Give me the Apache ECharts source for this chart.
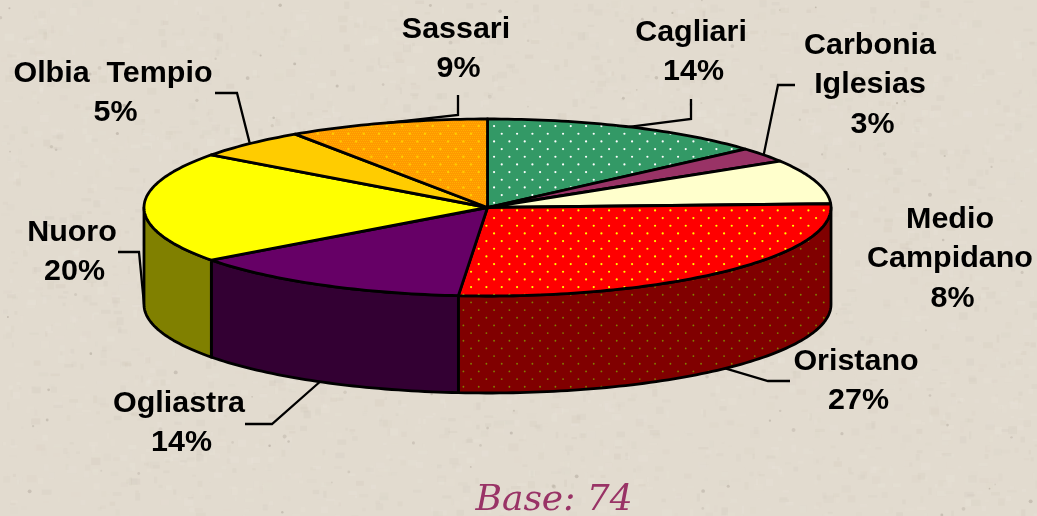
<!DOCTYPE html>
<html><head><meta charset="utf-8">
<style>html,body{margin:0;padding:0;background:#e2dbcf}#c{width:1037px;height:516px}</style>
<script src="https://cdn.jsdelivr.net/npm/echarts@6/dist/echarts.min.js"></script>
</head><body><div id="c"></div>
<script>
// ---- data (answers out of a base of 74) ----
const categories = ['Cagliari','Carbonia Iglesias','Medio Campidano','Oristano','Ogliastra','Nuoro','Olbia Tempio','Sassari'];
const counts     = [10, 2, 6, 20, 10, 15, 4, 7];
const percents   = [14, 3, 8, 27, 14, 20, 5, 9];
const baseLabel  = 'Base: 74';
// ---- label text lines ----
const labelLines = [['Cagliari'],['Carbonia','Iglesias'],['Medio','Campidano'],['Oristano'],['Ogliastra'],['Nuoro'],['Olbia  Tempio'],['Sassari']];
// ---- styles ----
const topColors  = ['#339966','#993366','#FFFFCC','#FF0000','#660066','#FFFF00','#FFCC00','#FF9900'];
const sideColors = ['#1a4d33','#4d1a33','#808066','#800000','#330033','#808000','#806600','#804d00'];
const dotColors  = ['#ffffff',null,null,'#ffff00',null,null,null,'#ffcc00'];
const dotRadius  = [1.1,0,0,1.1,0,0,0,1.2];
const sideDots   = [null,null,null,'#808000',null,null,null,null];
// ---- layout ----
const CX=487.5, CY=207.5, RX=343.5, RY=88.5, DEPTH=97;
const labelPos = [[691,32.5],[870,45.5],[950,219.5],[856,361.5],[179,403.5],[72,232.5],[113,73.5],[456,29.5]];
const elbows = [
  [[691,99],[691,119]], [[795,85],[778,85]], [], [[790,381],[768,381]],
  [[245,424],[272,424]], [[118,252],[139,252]], [[215,93],[237,93]], [[458,95],[458,115]]
];
const LINE_H=39.5, PCT_DX=2.5, FONT='bold 29px "Liberation Sans", Arial, sans-serif', TEXT_STRETCH=1.05;

const total = counts.reduce((a,b)=>a+b,0);
const cum=[]; counts.reduce((a,b,i)=>(cum[i]=a,a+b),0);
const ang = v => v/total*2*Math.PI;
const pt = (a,dz=0)=>[CX+RX*Math.sin(a), CY-RY*Math.cos(a)+dz];

// 46px tile = three dot periods of 15.33px, staggered rows 7.67px apart
function dotPattern(bg,dot,r,dense){
  const T=46, P=T/3, c=document.createElement('canvas'); c.width=c.height=T;
  const g=c.getContext('2d'); g.fillStyle=bg; g.fillRect(0,0,T,T);
  if(dense){ g.fillStyle=dense; for(let y=0;y<T;y+=2) for(let x=(y%4?1:0);x<T;x+=2) g.fillRect(x,y,1,1); }
  g.fillStyle=dot;
  for(let a=0;a<3;a++) for(let b=0;b<3;b++){
    [[3.4,3.4],[3.4+P/2,3.4+P/2]].forEach(([x,y])=>{g.beginPath();g.arc(x+a*P,y+b*P,r,0,7);g.fill();});
  }
  return {image:c,repeat:'repeat'};
}
const topFill = i => i===7 ? dotPattern(topColors[i],dotColors[i],dotRadius[i],'#ffb000')
                           : dotColors[i] ? dotPattern(topColors[i],dotColors[i],dotRadius[i]) : topColors[i];
const sideFill = i => sideDots[i] ? dotPattern(sideColors[i],sideDots[i],0.9) : sideColors[i];

// paper-like backdrop: fixed-seed speckles, decoration only
function paper(){
  const W=1037,H=516,c=document.createElement('canvas'); c.width=W;c.height=H;
  const g=c.getContext('2d'); g.fillStyle='#e2dbcf'; g.fillRect(0,0,W,H);
  let s=12345; const r=()=>(s=(s*1664525+1013904223)>>>0)/4294967296;
  for(let i=0;i<4000;i++){
    const l=r()>.5; g.fillStyle=l?`rgba(240,235,226,${.2*r()})`:`rgba(195,186,172,${.16*r()})`;
    g.fillRect(r()*W,r()*H,2+r()*8,2+r()*6);
  }
  for(let i=0;i<170;i++){
    g.fillStyle=`rgba(150,140,128,${.15+.25*r()})`; g.beginPath(); g.arc(r()*W,r()*H,.8+r()*1.2,0,7); g.fill();
  }
  return {image:c,repeat:'no-repeat'};
}

const seriesData = counts.map((v,i)=>({name:categories[i],value:[cum[i],v,i]}));

function arc(a0,a1,dz){ const n=Math.max(2,Math.ceil((a1-a0)/0.02)),p=[];
  for(let k=0;k<=n;k++) p.push(pt(a0+(a1-a0)*k/n,dz)); return p; }

const edge={stroke:'#000',lineWidth:2.8,lineJoin:'round'};

function renderWall(params,api){
  const i=api.value(2), a0=ang(api.value(0)), a1=a0+ang(api.value(1));
  const lo=Math.max(a0,Math.PI/2), hi=Math.min(a1,1.5*Math.PI);
  if(hi<=lo) return null;
  const pts=arc(lo,hi,0).concat(arc(lo,hi,DEPTH).reverse());
  return {type:'polygon',shape:{points:pts},style:Object.assign({fill:sideFill(i)},edge)};
}
function renderTop(params,api){
  const i=api.value(2), a0=ang(api.value(0)), a1=a0+ang(api.value(1));
  return {type:'polygon',shape:{points:[[CX,CY]].concat(arc(a0,a1,0))},style:Object.assign({fill:topFill(i)},edge)};
}
function renderLabel(params,api){
  const i=api.value(2), mid=ang(api.value(0)+api.value(1)/2);
  const front=Math.cos(mid)<=0.001;
  const kids=[];
  if(elbows[i].length){
    const p=pt(mid,front?DEPTH:0);
    kids.push({type:'polyline',shape:{points:elbows[i].concat([p])},style:{stroke:'#000',lineWidth:2.3,fill:null}});
  }
  const names=labelLines[i];
  names.concat([percents[i]+'%']).forEach((t,k)=>kids.push({type:'text',
    x:labelPos[i][0]+(k===names.length?PCT_DX:0),y:labelPos[i][1]+k*LINE_H,scaleX:TEXT_STRETCH,
    style:{text:t,align:'center',verticalAlign:'middle',font:FONT,fill:'#000'}}));
  return {type:'group',children:kids};
}
const chart=echarts.init(document.getElementById('c'),null,{renderer:'canvas',width:1037,height:516});
chart.setOption({
  animation:false,
  backgroundColor:paper(),
  series:[
    {type:'custom',coordinateSystem:'none',silent:true,renderItem:renderWall,data:seriesData,z:1},
    {type:'custom',coordinateSystem:'none',silent:true,renderItem:renderTop,data:seriesData,z:2},
    {type:'custom',coordinateSystem:'none',silent:true,renderItem:renderLabel,data:seriesData,z:3}
  ],
  graphic:[{type:'text',z:5,style:{text:baseLabel,x:554,y:501,align:'center',verticalAlign:'middle',
    font:'italic 36px "DejaVu Serif", serif',fill:'#993366'}}]
});
</script></body></html>
